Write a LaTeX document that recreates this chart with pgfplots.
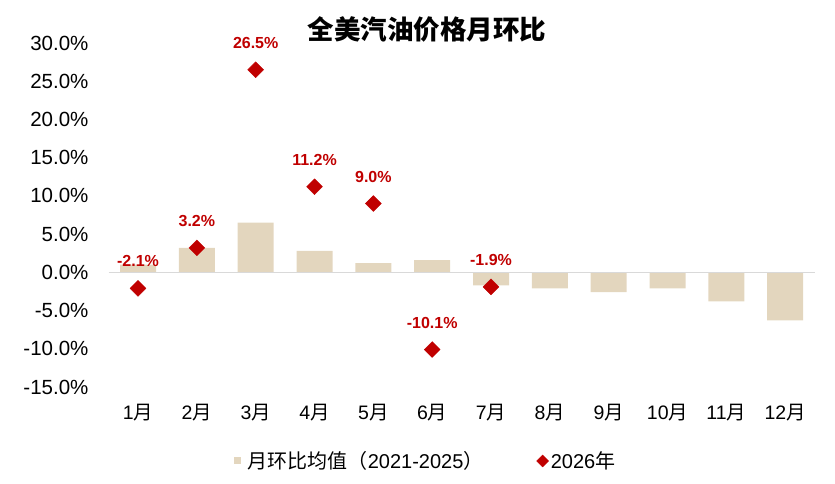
\documentclass[border=0pt]{standalone}
\usepackage{fontspec}
\setmainfont{Liberation Sans}
\newfontfamily\cjk{Noto Sans CJK SC}
\usepackage{pgfplots}
\pgfplotsset{compat=1.18}
\definecolor{barc}{HTML}{E3D6BE}
\definecolor{redc}{HTML}{C00000}
\definecolor{zline}{HTML}{D9D9D9}
\newcommand\yue{{\cjk 月}}
\begin{document}
\begin{tikzpicture}
\useasboundingbox (0,0) rectangle (835pt,483pt);
\begin{axis}[
  at={(108.6pt,96pt)}, anchor=south west,
  scale only axis, width=706pt, height=344pt,
  xmin=-0.5, xmax=11.5, ymin=-15, ymax=30,
  axis line style={draw=none},
  tick style={draw=none},
  xtick={0,...,11},
  xticklabels={1\yue,2\yue,3\yue,4\yue,5\yue,6\yue,7\yue,8\yue,9\yue,10\yue,11\yue,12\yue},
  xticklabel style={font=\fontsize{19.5}{22}\selectfont, anchor=north, inner sep=0pt, yshift=-17pt},
  ytick={-15,-10,...,30},
  yticklabels={-15.0\%,-10.0\%,-5.0\%,0.0\%,5.0\%,10.0\%,15.0\%,20.0\%,25.0\%,30.0\%},
  yticklabel style={font=\fontsize{20.5}{22}\selectfont, anchor=east, inner sep=0pt, xshift=-20pt},
  clip=false,
  legend columns=2,
  legend style={at={(0.449,-0.215)}, anchor=center, draw=none, fill=none,
    font=\fontsize{20}{22}\selectfont,
    /tikz/every even column/.append style={column sep=51pt}},
]
\addplot[fill=barc, draw=none, ybar, bar width=36pt,
  legend image code/.code={\fill[barc] (0pt,-3.5pt) rectangle (7pt,3.5pt); \path (12pt,0pt);}]
  coordinates {(0,1.0) (1,3.2) (2,6.5) (3,2.8) (4,1.2) (5,1.6) (6,-1.7) (7,-2.1) (8,-2.6) (9,-2.1) (10,-3.8) (11,-6.3)};
\addlegendentry{{\cjk 月环比均值（}2021-2025{\cjk ）}}
\draw[zline, line width=1.5pt] (axis cs:-0.5,0) -- (axis cs:11.5,0);
\addplot[only marks, mark=square*, mark size=5.6pt,
  mark options={rotate=45, fill=redc, draw=redc},
  legend image code/.code={\fill[redc] (0pt,0pt) -- (6pt,6pt) -- (12pt,0pt) -- (6pt,-6pt) -- cycle;},
  nodes near coords, point meta=explicit symbolic,
  every node near coord/.style={font=\bfseries\fontsize{16}{18}\selectfont, text=redc, anchor=center, yshift=27pt}]
  coordinates {(0,-2.1)[-2.1\%] (1,3.2)[3.2\%] (2,26.5)[26.5\%] (3,11.2)[11.2\%] (4,9.0)[9.0\%] (5,-10.1)[-10.1\%] (6,-1.9)[-1.9\%]};
\addlegendentry{2026{\cjk 年}}
\end{axis}
\node[font=\cjk\bfseries\fontsize{26.5}{30}\selectfont] at (427pt,454pt) {全美汽油价格月环比};
\end{tikzpicture}
\end{document}
